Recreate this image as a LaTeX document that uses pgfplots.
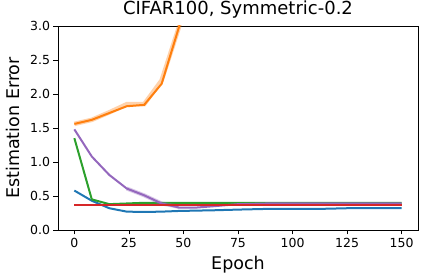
\documentclass[border=0pt]{standalone}
\usepackage{fontspec}
\setmainfont{DejaVu Sans}
\usepackage{pgfplots}
\pgfplotsset{compat=1.18}
\definecolor{tblue}{HTML}{1F77B4}
\definecolor{torange}{HTML}{FF7F0E}
\definecolor{tgreen}{HTML}{2CA02C}
\definecolor{tred}{HTML}{D62728}
\definecolor{tpurple}{HTML}{9467BD}
\begin{document}
\begin{tikzpicture}
\begin{axis}[
  scale only axis, width=360pt, height=204pt,
  at={(0,0)}, anchor=south west,
  xmin=-7.5, xmax=157.5, ymin=0, ymax=3,
  xtick={0,25,50,75,100,125,150},
  ytick={0,0.5,1,1.5,2,2.5,3},
  yticklabel style={/pgf/number format/.cd, fixed, fixed zerofill, precision=1},
  /pgf/number format/assume math mode=true,
  tick align=outside, xtick pos=bottom, ytick pos=left,
  major tick length=4.5pt,
  tick style={black, line width=0.7pt},
  axis line style={line width=0.7pt},
  ticklabel style={font=\fontsize{12.5}{15}\selectfont},
  title={CIFAR100, Symmetric-0.2},
  title style={font=\fontsize{18}{21}\selectfont, at={(axis description cs:0.5,1.0245)}, anchor=base},
  xlabel={Epoch}, ylabel={Estimation Error},
  label style={font=\fontsize{17.5}{20}\selectfont},
  xlabel style={at={(axis description cs:0.5,-0.196)}, anchor=base},
  ylabel style={at={(axis description cs:-0.1056,0.5)}, anchor=base},
  clip=true,
  every axis plot/.append style={line width=2pt, no markers},
]
% orange band
\addplot[torange, opacity=0.35, line width=4.5pt] coordinates {(0,1.56) (8,1.62) (16,1.73) (24,1.85) (32,1.85) (40,2.2) (48,2.99) (56,4.2)};
\addplot[torange] coordinates {(0,1.56) (8,1.62) (16,1.72) (24,1.82) (32,1.84) (40,2.15) (48,2.99) (56,4.2)};
\addplot[tblue] coordinates {(0,0.58) (8,0.43) (16,0.32) (24,0.27) (32,0.265) (40,0.27) (48,0.28) (64,0.29) (75,0.30) (88,0.31) (100,0.31) (112,0.31) (125,0.32) (150,0.32)};
\addplot[tgreen] coordinates {(0,1.35) (8,0.45) (16,0.38) (24,0.39) (32,0.40) (48,0.40) (75,0.40) (100,0.40) (150,0.40)};
\addplot[tpurple, opacity=0.35, line width=4pt] coordinates {(24,0.61) (32,0.51) (40,0.39) (48,0.34)};
\addplot[tpurple] coordinates {(0,1.48) (8,1.08) (16,0.81) (24,0.61) (32,0.51) (40,0.39) (48,0.33) (56,0.33) (64,0.35) (75,0.38) (88,0.39) (100,0.39) (150,0.39)};
\addplot[tred] coordinates {(0,0.37) (150,0.37)};
\end{axis}
\pgfresetboundingbox
\path[use as bounding box] (-58pt,-50pt) rectangle (366pt,230pt);
\end{tikzpicture}
\end{document}
